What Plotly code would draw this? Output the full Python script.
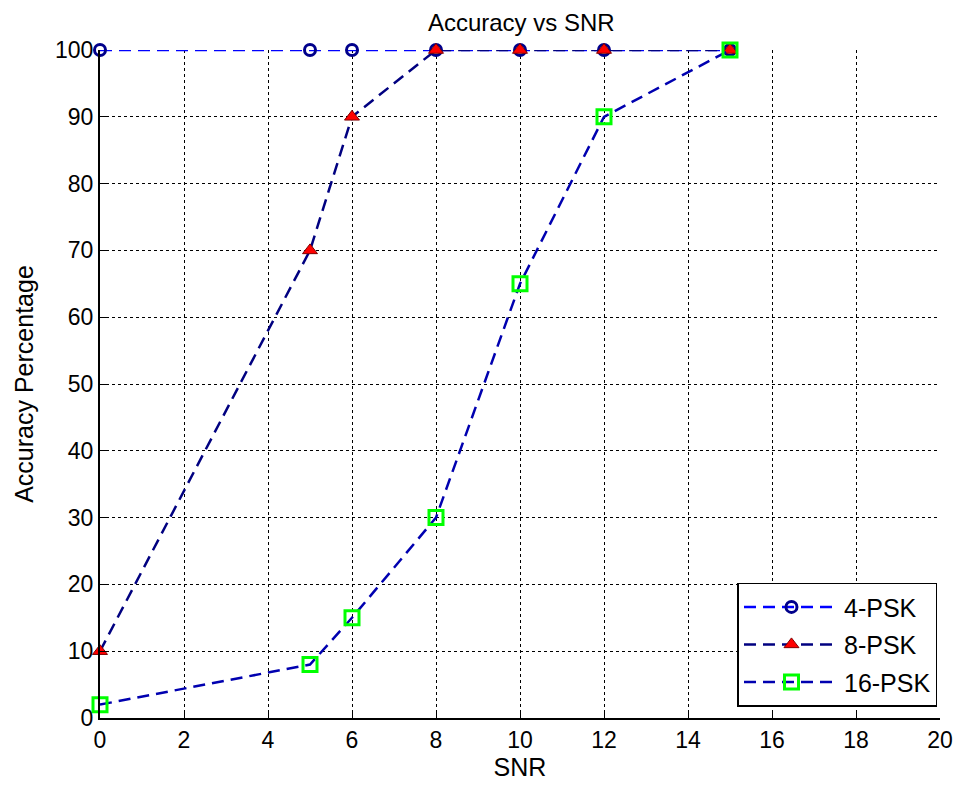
import plotly.graph_objects as go

snr = [0, 5, 6, 8, 10, 12, 15]
acc_4psk = [100, 100, 100, 100, 100, 100, 100]
acc_8psk = [10, 70, 90, 100, 100, 100, 100]
acc_16psk = [2, 8, 15, 30, 65, 90, 100]
x_ticks = list(range(0, 21, 2))
y_ticks = list(range(0, 101, 10))

FONT = "Liberation Sans, Arial, sans-serif"

fig = go.Figure()
fig.add_trace(go.Scatter(
    x=snr, y=acc_4psk, name="4-PSK", mode="lines+markers", legendgroup="a",
    line=dict(color="#0000ff", width=2.5, dash="12px,7px"),
    marker=dict(symbol="circle-open", size=11, color="#00008b", line=dict(width=3, color="#00008b")),
    cliponaxis=False,
))
fig.add_trace(go.Scatter(
    x=snr, y=acc_8psk, name="8-PSK", mode="lines+markers", legendgroup="b",
    line=dict(color="#000080", width=2.5, dash="12px,7px"),
    marker=dict(symbol="triangle-up", size=13, color="#ff0000", line=dict(width=1, color="#800000")),
    cliponaxis=False,
))
fig.add_trace(go.Scatter(
    x=snr, y=acc_16psk, name="16-PSK", mode="lines+markers", legendgroup="c",
    line=dict(color="#0000b0", width=2.5, dash="12px,7px"),
    marker=dict(symbol="square-open", size=14, color="#00ff00", line=dict(width=3, color="#00ff00")),
    cliponaxis=False,
))

fig.update_layout(
    width=963, height=788,
    margin=dict(l=92, r=31, t=42, b=78, autoexpand=False),
    paper_bgcolor="white", plot_bgcolor="white",
    font=dict(family=FONT, size=22, color="#000000"),
    title=dict(text="Accuracy vs SNR", x=0.533, xanchor="center", y=0.992, yanchor="top",
               font=dict(family=FONT, size=24, color="#000000"), automargin=False,
               pad=dict(t=0, b=0)),
    showlegend=True,
    legend=dict(x=0.997, y=0.017, xanchor="right", yanchor="bottom",
                bgcolor="white", bordercolor="#000000", borderwidth=1.5,
                font=dict(family=FONT, size=25, color="#000000"),
                itemwidth=95, tracegroupgap=2),
)
fig.update_xaxes(
    range=[0, 20], tickvals=x_ticks, ticks="inside", ticklen=6, tickcolor="#000",
    showline=True, linecolor="#000", linewidth=2,
    showgrid=True, gridcolor="#000", griddash="dot", gridwidth=1,
    zeroline=False, automargin=False,
    title=dict(text="SNR", font=dict(family=FONT, size=25), standoff=6),
    tickfont=dict(family=FONT, size=23),
)
fig.update_yaxes(
    range=[0, 100], tickvals=y_ticks, ticks="inside", ticklen=6, tickcolor="#000",
    showline=True, linecolor="#000", linewidth=2,
    showgrid=True, gridcolor="#000", griddash="dot", gridwidth=1,
    zeroline=False, automargin=False,
    title=dict(text="Accuracy Percentage", font=dict(family=FONT, size=25), standoff=14),
    tickfont=dict(family=FONT, size=23),
)

fig.write_html("out.html")
